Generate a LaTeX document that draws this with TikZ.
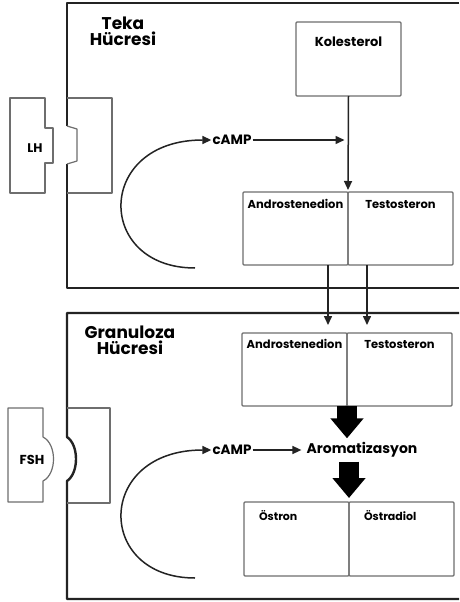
\documentclass[tikz,border=0pt]{standalone}
\usepackage{fontspec}
\setmainfont{Poppins}
\usetikzlibrary{arrows.meta,positioning,calc}
\definecolor{WallGray}{RGB}{35,35,35}
\definecolor{BoxGray}{RGB}{110,110,110}
\tikzset{
  wall/.style={draw=WallGray,line width=2.4pt,line join=round},
  rcpt/.style={draw=BoxGray,line width=1.2pt,line join=round},
  sbox/.style={draw=BoxGray,line width=1.3pt,rounded corners=1pt,
               minimum width=105pt,inner xsep=0pt,inner ysep=0pt,outer sep=0pt,
               font=\fontsize{11.5}{13}\selectfont\bfseries,anchor=north west},
  lbox/.style={sbox,text width=75pt,inner xsep=15pt,align=left,
               font=\fontsize{11}{13}\selectfont\bfseries},
  celltitle/.style={font=\fontsize{17}{16}\selectfont\bfseries,align=center,inner sep=0pt},
  lbl/.style={font=\fontsize{13.5}{15}\selectfont\bfseries,inner sep=1pt},
  arr/.style={-{Triangle[length=9pt,width=8pt]},draw=WallGray,line width=1.5pt},
  bigarr/.style={-{Triangle[length=20pt,width=32pt]},line width=20pt,black},
}

\begin{document}
\begin{tikzpicture}[x=1pt,y=-1pt]
    \useasboundingbox[fill=white] (0,0) rectangle (459,602);
    % Teka cell
    \draw[wall] (459,3) -- (67,3) -- (67,126);
    \draw[wall] (67,164) -- (67,288) -- (459,288);
    \draw[rcpt] (67,126) -- (77,129) -- (77,161) -- (67,164);
    \draw[rcpt] (67,98) -- (112,98) -- (112,193) -- (67,193);
    \draw[rcpt] (45,128) -- (45,98) -- (10,98) -- (10,193) -- (45,193) -- (45,163) -- (53,163) -- (53,128) -- cycle;
    \node[lbl,font=\fontsize{12.5}{14}\selectfont\bfseries] (lh) at (35,148) {LH};
    \node[celltitle] (teka) at (123,31) {Teka\\Hücresi};

    \node[sbox,text height=25pt,text depth=49pt,font=\fontsize{13}{15}\selectfont\bfseries] (kole) at (296,22) {Kolesterol};
    \node[sbox,text height=16pt,text depth=57pt] (andro1) at (243,192) {Androstenedion};
    \node[sbox,text height=16pt,text depth=57pt,right=0pt of andro1] (testo1) {Testosteron};
    \node[lbl] (camp1) at (232,140) {cAMP};

    \coordinate (loop1) at (195,268);
    \coordinate (meet1) at (camp1.east -| kole.south);
    \draw[arr] (loop1) .. controls (95,268) and (95,140) .. (camp1.west);
    \draw[arr,shorten >=4pt] (camp1.east) -- (meet1);
    \draw[arr,shorten >=2pt] (kole.south) -- (andro1.north east);

    % Granuloza cell
    \draw[wall] (459,313) -- (67,313) -- (67,437) .. controls (79,445) and (79,473) .. (67,481) -- (67,599) -- (459,599);
    \draw[rcpt] (67,408) -- (110,408) -- (110,503) -- (67,503);
    \draw[rcpt] (43,437) -- (43,408) -- (8,408) -- (8,502) -- (43,502) -- (43,481) .. controls (57,474) and (57,444) .. (43,437);
    \node[lbl,font=\fontsize{13}{15}\selectfont\bfseries] (fsh) at (32,460) {FSH};
    \node[celltitle] (granuloza) at (130,340) {Granuloza\\Hücresi};

    \node[sbox,text height=15pt,text depth=58pt] (andro2) at (242,333) {Androstenedion};
    \node[sbox,text height=15pt,text depth=58pt,right=0pt of andro2] (testo2) {Testosteron};
    \node[lbl,font=\fontsize{14}{16}\selectfont\bfseries] (arom) at (362,450) {Aromatizasyon};
    \node[lbox,text height=18pt,text depth=56pt] (ostron) at (244,502) {Östron};
    \node[lbox,text height=18pt,text depth=56pt,right=0pt of ostron] (ostradiol) {Östradiol};
    \node[lbl] (camp2) at (232,450) {cAMP};

    \coordinate (loop2) at (195,578);
    \draw[arr] (loop2) .. controls (95,578) and (95,450) .. (camp2.west);
    \draw[arr,shorten >=4pt] (camp2.east) -- (arom.west);

    % transfer between cells
    \coordinate (d1) at ([xshift=-20pt]andro1.south east);
    \coordinate (d2) at ([xshift=19pt]andro1.south east);
    \draw[arr,shorten >=8pt] (d1) -- (d1 |- andro2.north);
    \draw[arr,shorten >=8pt] (d2) -- (d2 |- andro2.north);

    \draw[bigarr,shorten >=3pt] (andro2.south east) -- (arom.north -| andro2.south east);
    \draw[bigarr,shorten <=3pt,shorten >=4pt] (arom.south -| ostron.north east) -- (ostron.north east);
\end{tikzpicture}
\end{document}
